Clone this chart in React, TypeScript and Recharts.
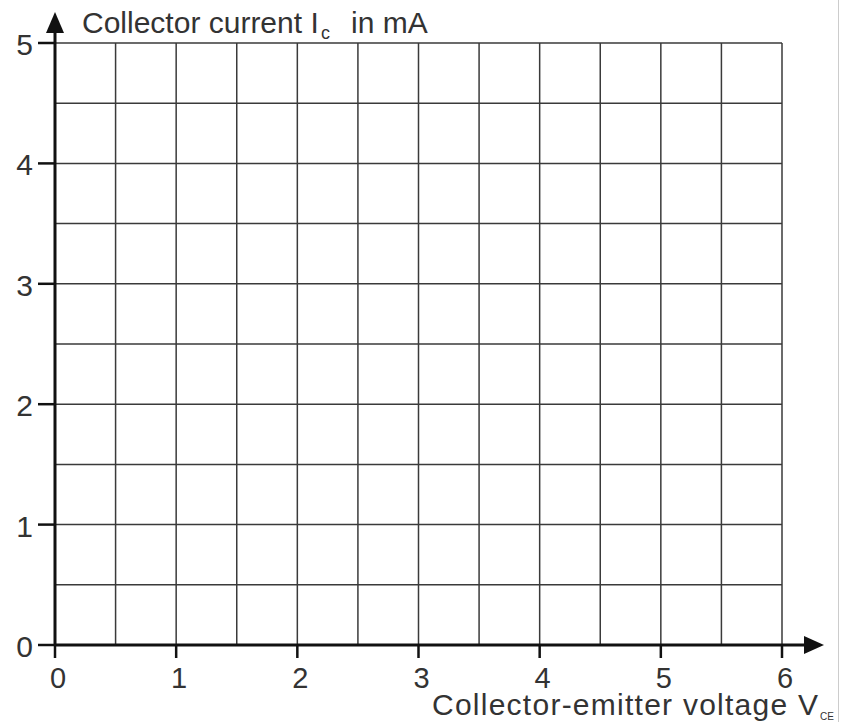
import React from 'react';
import { ComposedChart, XAxis, YAxis, CartesianGrid } from 'recharts';

// axis values (grid every 0.5, labels on whole numbers)
const voltageTicks = [0, 0.5, 1, 1.5, 2, 2.5, 3, 3.5, 4, 4.5, 5, 5.5, 6];
const currentTicks = [0, 0.5, 1, 1.5, 2, 2.5, 3, 3.5, 4, 4.5, 5];
const voltageDomain = [0, 6];
const currentDomain = [0, 5];

const W = 841;
const H = 722;
const LEFT = 55;
const TOP = 43;
const RIGHT = 59;
const BOTTOM = 77;
const FONT = '"Liberation Sans", Arial, sans-serif';
const INK = '#333';

const XTick = ({ x, y, payload }: any) => {
  if (payload.value % 1 !== 0) return null;
  return (
    <g>
      <line x1={x} x2={x} y1={y} y2={y + 13} stroke="#111" strokeWidth={2.5} />
      <text x={x + 3} y={y + 43} textAnchor="middle" fontSize={29} fill={INK} fontFamily={FONT}>
        {payload.value}
      </text>
    </g>
  );
};

const YTick = ({ x, y, payload }: any) => {
  if (payload.value % 1 !== 0) return null;
  return (
    <g>
      <line x1={x - 17} x2={x} y1={y} y2={y} stroke="#111" strokeWidth={2.5} />
      <text x={x - 22} y={y + 12} textAnchor="end" fontSize={30} fill={INK} fontFamily={FONT}>
        {payload.value}
      </text>
    </g>
  );
};

const Decorations = () => {
  const x0 = LEFT;
  const y0 = H - BOTTOM;
  return (
    <g>
      {/* y axis with arrow */}
      <line x1={x0} x2={x0} y1={y0} y2={30} stroke="#111" strokeWidth={3} />
      <polygon points={`${x0},12 ${x0 - 9},33 ${x0 + 9},33`} fill="#111" />
      {/* x axis with arrow */}
      <line x1={x0} x2={808} y1={y0} y2={y0} stroke="#111" strokeWidth={3} />
      <polygon points={`824,${y0} 804,${y0 - 9} 804,${y0 + 9}`} fill="#111" />
      <text x={82} y={33} fontSize={30} fill={INK} fontFamily={FONT}>
        Collector current I
      </text>
      <text x={321} y={39} fontSize={18} fill={INK} fontFamily={FONT}>
        c
      </text>
      <text x={351} y={33} fontSize={30} fill={INK} fontFamily={FONT}>
        in mA
      </text>
      <text
        x={432}
        y={715}
        fontSize={30}
        fill={INK}
        fontFamily={FONT}
        textLength={386}
        lengthAdjust="spacing"
      >
        Collector-emitter voltage V
      </text>
      <text x={820} y={720} fontSize={10} fill={INK} fontFamily={FONT}>
        CE
      </text>
      <line x1={838.5} x2={838.5} y1={0} y2={H} stroke="#ccc" strokeWidth={1} />
    </g>
  );
};

export default function App() {
  return (
    <div style={{ position: 'absolute', left: 0, top: 0, width: W, height: H, background: '#fff' }}>
      <ComposedChart width={W} height={H} data={[]} margin={{ top: TOP, right: RIGHT, left: 0, bottom: 0 }}>
        <CartesianGrid stroke="#3a3a3a" strokeWidth={1.5} />
        <XAxis
          type="number"
          dataKey="v"
          domain={voltageDomain}
          ticks={voltageTicks}
          interval={0}
          height={BOTTOM}
          axisLine={false}
          tickLine={false}
          tickSize={0}
          tickMargin={0}
          tick={<XTick />}
          allowDataOverflow
        />
        <YAxis
          type="number"
          dataKey="i"
          domain={currentDomain}
          ticks={currentTicks}
          interval={0}
          width={LEFT}
          axisLine={false}
          tickLine={false}
          tickSize={0}
          tickMargin={0}
          tick={<YTick />}
          allowDataOverflow
        />
        <Decorations />
      </ComposedChart>
    </div>
  );
}
